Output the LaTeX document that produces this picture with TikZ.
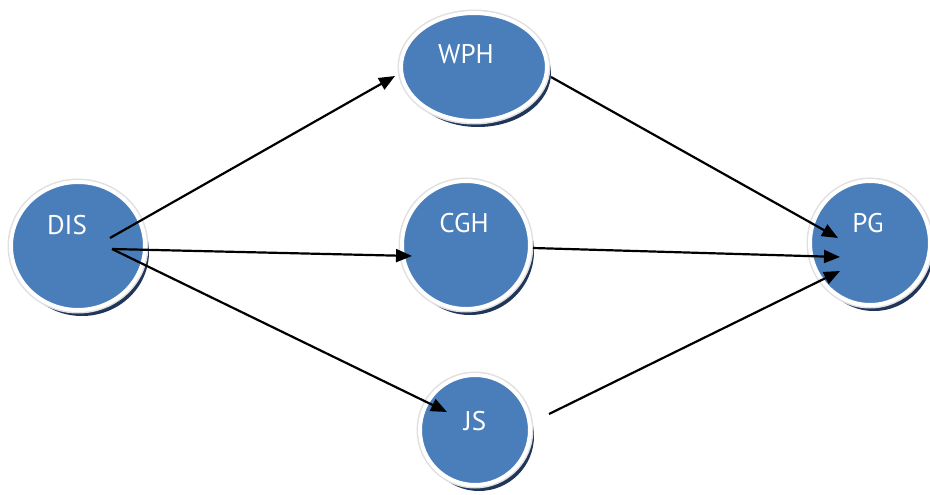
\documentclass[tikz,border=0pt]{standalone}
\usepackage{fontspec}
\setmainfont{PT Sans}
\usetikzlibrary{shapes.geometric,shadows,arrows.meta}
\definecolor{bubblue}{HTML}{4A7EBB}
\definecolor{bubshade}{HTML}{1F3559}
\begin{document}
\begin{tikzpicture}[x=1pt,y=-1pt,
  bub/.style={ellipse, inner sep=0pt, fill=bubblue, draw=white, line width=4pt,
    drop shadow={shadow xshift=4pt, shadow yshift=-6pt, fill=bubshade, opacity=1},
    preaction={draw=black!12, line width=7pt}},
  tag/.style={text=white, font=\fontsize{27}{27}\selectfont},
  arr/.style={-{Triangle[length=16pt,width=13pt]}, line width=2.2pt, black}]
\useasboundingbox (0,0) rectangle (930,495);

% the five bubbles
\node[bub, minimum width=134pt, minimum height=128pt,
  label={[tag,xshift=-11pt,yshift=21pt]center:DIS}] (DIS) at (78,246) {};
\node[bub, minimum width=146pt, minimum height=108pt,
  label={[tag,xshift=-8pt,yshift=13pt]center:WPH}] (WPH) at (474,67) {};
\node[bub, minimum width=128pt, minimum height=128pt,
  label={[tag,xshift=-2pt,yshift=22pt]center:CGH}] (CGH) at (466,245) {};
\node[bub, minimum width=110pt, minimum height=110pt,
  label={[tag,xshift=0pt,yshift=9pt]center:JS}] (JS) at (475,430) {};
\node[bub, minimum width=120pt, minimum height=124pt,
  label={[tag,xshift=-2pt,yshift=20pt]center:PG}] (PG) at (870,243) {};

% connector end points
\coordinate (DIS-a) at (110,238);
\coordinate (DIS-b) at (112,249);
\coordinate (WPH-in) at (395,76);
\coordinate (CGH-in) at (412,256);
\coordinate (JS-in) at (447,412);
\coordinate (WPH-out) at (551,77);
\coordinate (CGH-out) at (533,248);
\coordinate (JS-out) at (549,414);
\coordinate (PG-a) at (838,238);
\coordinate (PG-b) at (840,257);
\coordinate (PG-c) at (840,271);

\draw[arr] (DIS-a) -- (WPH-in);
\draw[arr] (DIS-b) -- (CGH-in);
\draw[arr] (DIS-b) -- (JS-in);
\draw[arr] (WPH-out) -- (PG-a);
\draw[arr] (CGH-out) -- (PG-b);
\draw[arr] (JS-out) -- (PG-c);
\end{tikzpicture}
\end{document}
